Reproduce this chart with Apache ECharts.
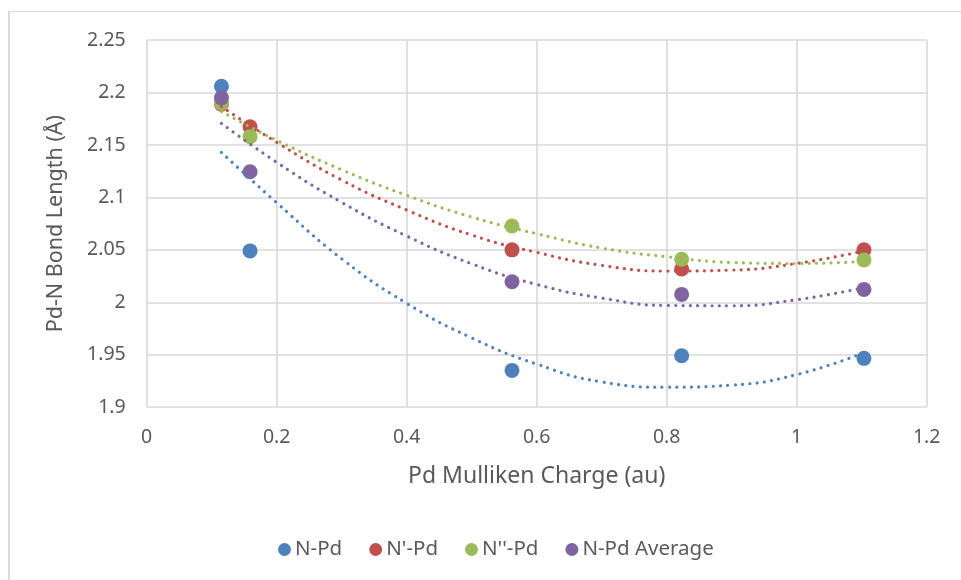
<!DOCTYPE html>
<html>
<head>
<meta charset="utf-8">
<script src="https://cdn.jsdelivr.net/npm/echarts@6/dist/echarts.min.js"></script>
<style>
html,body{margin:0;padding:0;background:#fff;}
#chart{width:961px;height:580px;}
</style>
</head>
<body>
<div id="chart"></div>
<script>
// Data
var charge = [0.115, 0.159, 0.562, 0.823, 1.1035];
var nPd       = [2.206, 2.049, 1.935, 1.949, 1.9465];
var nPrimePd  = [2.189, 2.1675, 2.050, 2.0317, 2.050];
var nDoublePd = [2.190, 2.158, 2.0727, 2.041, 2.0403];
var nPdAvg    = [2.195, 2.1245, 2.0196, 2.0075, 2.0123];

// Trendline (polynomial) values
var trendX      = [0.115, 0.2, 0.3, 0.4, 0.5, 0.6, 0.7, 0.8, 0.9, 1.0, 1.1035];
var trendNPd    = [2.143, 2.095, 2.0415, 1.999, 1.966, 1.941, 1.924, 1.919, 1.921, 1.931, 1.952];
var trendNPrime = [2.1866, 2.1526, 2.1166, 2.088, 2.0641, 2.0476, 2.0352, 2.0298, 2.0307, 2.037, 2.049];
var trendNDbl   = [2.182, 2.1545, 2.1264, 2.102, 2.0813, 2.0654, 2.0517, 2.0434, 2.038, 2.037, 2.039];
var trendAvg    = [2.1707, 2.1335, 2.0953, 2.0632, 2.0367, 2.017, 2.004, 1.997, 1.9967, 2.0024, 2.014];

var seriesNames = ['N-Pd', "N'-Pd", "N''-Pd", 'N-Pd Average'];
var xTickLabels = ['0', '0.2', '0.4', '0.6', '0.8', '1', '1.2'];
var yTickLabels = ['1.9', '1.95', '2', '2.05', '2.1', '2.15', '2.2', '2.25'];

var colors = ['#4F81BD', '#C0504D', '#9BBB59', '#8064A2'];
var pointSets = [nPd, nPrimePd, nDoublePd, nPdAvg];
var trendSets = [trendNPd, trendNPrime, trendNDbl, trendAvg];

function pairs(xs, ys){ return xs.map(function(x,i){ return [x, ys[i]]; }); }

var FONT = '"Noto Sans", sans-serif';
var series = [];
pointSets.forEach(function(ys, i){
  series.push({
    name: seriesNames[i], type: 'scatter', data: pairs(charge, ys),
    symbol: 'circle', symbolSize: 15, itemStyle: {color: colors[i], opacity: 1},
    z: 2
  });
});
trendSets.forEach(function(ys, i){
  series.push({
    name: seriesNames[i] + ' trend', type: 'line', data: pairs(trendX, ys),
    smooth: 0.5, showSymbol: false, symbol: 'none', silent: true,
    lineStyle: {color: colors[i], width: 3.2, type: [0.01, 7.3], cap: 'round'},
    z: 3
  });
});

var chart = echarts.init(document.getElementById('chart'), null, {renderer: 'canvas'});
chart.setOption({
  animation: false,
  backgroundColor: '#ffffff',
  textStyle: {fontFamily: FONT},
  graphic: [
    {type: 'line', shape: {x1: 9, y1: 11.5, x2: 9, y2: 600}, style: {stroke: '#d9d9d9', lineWidth: 2}, silent: true},
    {type: 'line', shape: {x1: 8, y1: 11.5, x2: 970, y2: 11.5}, style: {stroke: '#d9d9d9', lineWidth: 1.2}, silent: true}
  ],
  grid: {left: 146.7, right: 34.3, top: 40.2, bottom: 172.9, containLabel: false},
  legend: {
    data: seriesNames, left: 273, top: 534,
    icon: 'circle', itemWidth: 13, itemHeight: 13, itemGap: 27,
    textStyle: {fontFamily: FONT, fontSize: 20.5, color: '#595959', padding: [0,0,0,-1]}
  },
  xAxis: {
    type: 'value', min: 0, max: 1.2, interval: 0.2,
    name: 'Pd Mulliken Charge (au)', nameLocation: 'middle', nameGap: 58,
    nameTextStyle: {fontFamily: FONT, fontSize: 23, color: '#595959'},
    axisLine: {show: false}, axisTick: {show: false},
    axisLabel: {margin: 20, fontFamily: FONT, fontSize: 19.5, color: '#595959',
      formatter: function(v){ var i = Math.round(v/0.2); return xTickLabels[i] || ''; }},
    splitLine: {show: true, lineStyle: {color: '#d9d9d9', width: 1.6}}
  },
  yAxis: {
    type: 'value', min: 1.9, max: 2.25, interval: 0.05,
    name: 'Pd-N Bond Length (Å)', nameLocation: 'middle', nameGap: 80,
    nameTextStyle: {fontFamily: FONT, fontSize: 21.5, color: '#595959'},
    axisLine: {show: false}, axisTick: {show: false},
    axisLabel: {margin: 21, fontFamily: FONT, fontSize: 19.5, color: '#595959',
      formatter: function(v){ var i = Math.round((v-1.9)/0.05); return yTickLabels[i] || ''; }},
    splitLine: {show: true, lineStyle: {color: '#d9d9d9', width: 1.6}}
  },
  series: series
});
</script>
</body>
</html>
